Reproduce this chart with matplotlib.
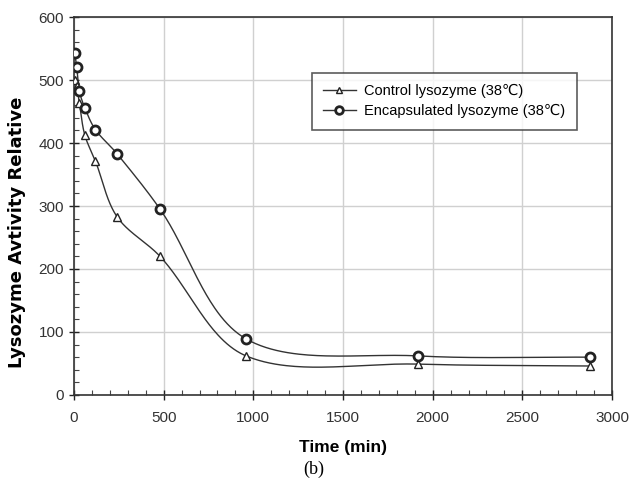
import numpy as np
import matplotlib
matplotlib.use("Agg")
import matplotlib.pyplot as plt
from matplotlib.ticker import MultipleLocator

plt.rcParams['font.family'] = ['Liberation Sans', 'DejaVu Sans']

time_min = [5, 15, 30, 60, 120, 240, 480, 960, 1920, 2880]
control = [500, 490, 464, 413, 371, 283, 220, 62, 49, 46]
encapsulated = [543, 521, 483, 456, 421, 383, 295, 89, 62, 60]
labels = ["Control lysozyme (38\u2103)", "Encapsulated lysozyme (38\u2103)"]


def smooth(ax, xs, ys, n=60):
    """Cardinal-spline Bezier smoothing computed in display space."""
    P = ax.transData.transform(np.column_stack([xs, ys]).astype(float))
    m = len(P)
    d = np.hypot(*(P[1:] - P[:-1]).T)
    out = []
    for i in range(m - 1):
        p0, p3 = P[i], P[i + 1]
        if i > 0:
            f0 = 2 * d[i] / (d[i - 1] + d[i])
            c1 = p0 + (p3 - P[i - 1]) * f0 / 6.0
        else:
            c1 = p0 + (p3 - p0) / 3.0
        if i + 2 < m:
            f1 = 2 * d[i] / (d[i] + d[i + 1])
            c2 = p3 - (P[i + 2] - p0) * f1 / 6.0
        else:
            c2 = p3 - (p3 - p0) / 3.0
        t = np.linspace(0, 1, n)[:, None]
        seg = ((1 - t) ** 3) * p0 + 3 * ((1 - t) ** 2) * t * c1 + 3 * (1 - t) * t ** 2 * c2 + t ** 3 * p3
        out.append(seg if i == 0 else seg[1:])
    s = ax.transData.inverted().transform(np.vstack(out))
    return s[:, 0], s[:, 1]


fig = plt.figure(figsize=(6.29, 4.93), dpi=100)
ax = fig.add_axes([0.1176, 0.1988, 0.8554, 0.7667])
ax.set_xlim(0, 3000)
ax.set_ylim(0, 600)

lc = '#333333'
for ys, mk, ms, mew, lab in [(control, '^', 6, 1.0, labels[0]),
                             (encapsulated, 'o', 6.5, 2.0, labels[1])]:
    sx, sy = smooth(ax, time_min, ys)
    ax.plot(sx, sy, color=lc, lw=1.0, zorder=3)
    ax.plot(time_min, ys, linestyle='none', marker=mk, ms=ms, mfc='white',
            mec='#222222', mew=mew, zorder=4)
    ax.plot([], [], color=lc, lw=1.0, marker=mk, ms=ms - 1, mfc='white',
            mec='#222222', mew=mew, label=lab)

ax.xaxis.set_major_locator(MultipleLocator(500))
ax.xaxis.set_minor_locator(MultipleLocator(100))
ax.yaxis.set_major_locator(MultipleLocator(100))
ax.yaxis.set_minor_locator(MultipleLocator(20))
ax.tick_params(which='major', direction='inout', length=7, width=1, labelsize=11,
               colors='#222222', labelcolor='#333333')
ax.tick_params(which='minor', direction='in', length=3.5, width=0.8, colors='#444444')
ax.tick_params(axis='x', pad=8)
ax.grid(True, which='major', color='#d0d0d0', lw=1.0)
ax.set_axisbelow(True)
for sp in ax.spines.values():
    sp.set_color('#333333')
    sp.set_linewidth(1.2)

ax.set_xlabel("Time (min)", fontsize=12.5, fontweight='bold', labelpad=11)
ax.set_ylabel("Lysozyme Avtivity Relative", fontsize=13, fontweight='bold',
              family=['DejaVu Sans'])
ax.yaxis.set_label_coords(-0.106, 0.43)
ax.yaxis.label.set_va('center')

leg = ax.legend(loc='upper left', bbox_to_anchor=(0.442, 0.853), fontsize=10.5,
                frameon=True, fancybox=False, edgecolor='#333333', handlelength=2.2,
                borderpad=0.8, labelspacing=0.4, handletextpad=0.6,
                borderaxespad=0)
leg.get_frame().set_linewidth(1.2)

fig.text(0.499, 0.047, "(b)", fontsize=13, family=['Liberation Serif', 'DejaVu Serif'],
         ha='center', va='center')

fig.savefig("out.png", dpi=100)
